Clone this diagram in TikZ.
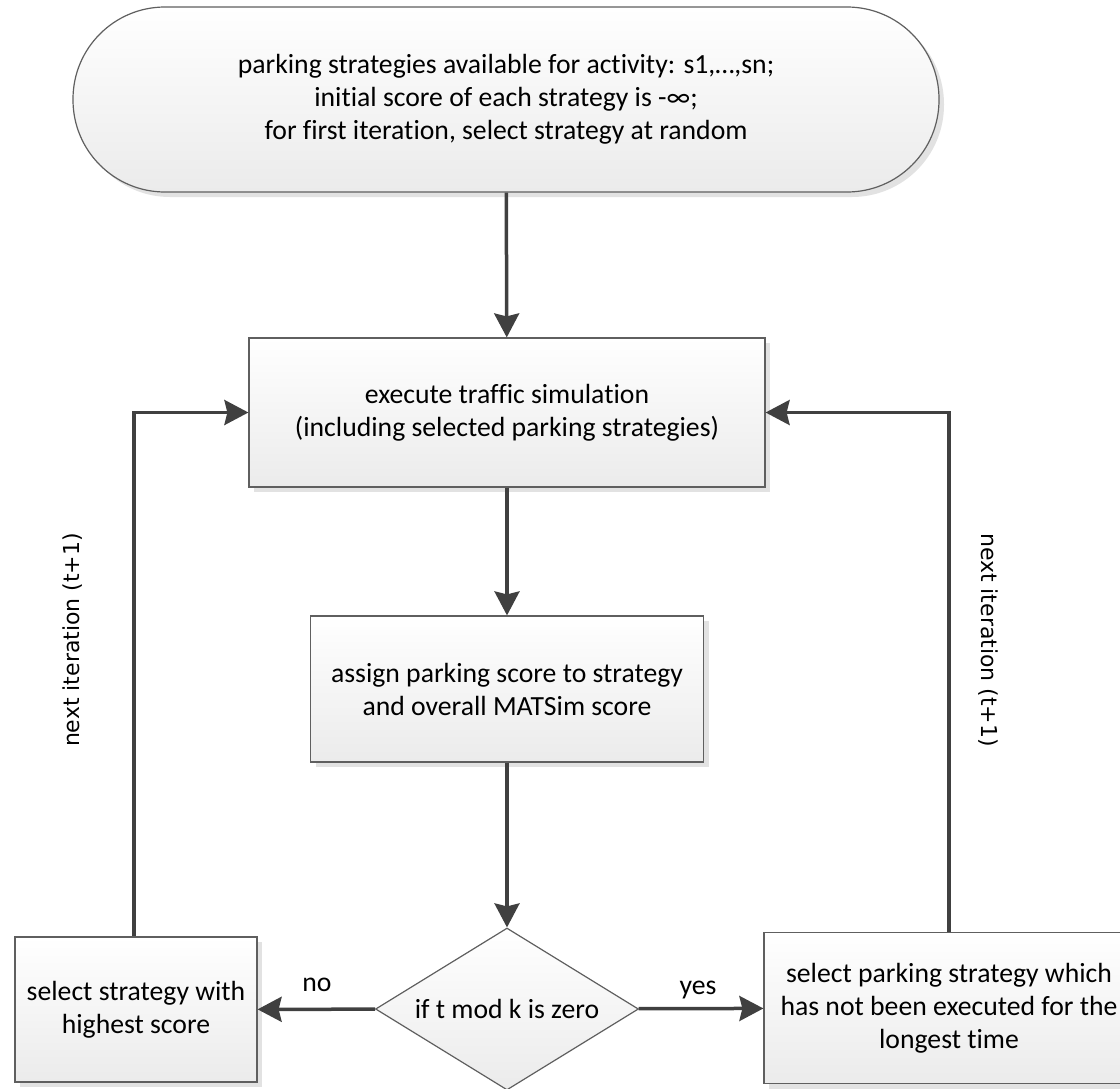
\documentclass[tikz,border=0pt]{standalone}
\usepackage{fontspec}
\setmainfont{Carlito}[Ligatures=NoCommon]
\newfontfamily\labelfont{DejaVu Sans}
\usetikzlibrary{arrows.meta,shapes.geometric,shadows}
\definecolor{linec}{HTML}{404040}
\definecolor{borderc}{HTML}{5F5F5F}
\definecolor{shadc}{HTML}{E2E2E2}
\definecolor{botc}{HTML}{EBEBEB}
\begin{document}
\begin{tikzpicture}[x=1pt,y=-1pt,
  every node/.style={font=\fontsize{27.7}{33}\selectfont},
  flowbox/.style={draw=borderc, line width=1.2pt, top color=white, bottom color=botc,
    general shadow={fill=shadc, shadow xshift=5pt, shadow yshift=-5pt},
    align=center, inner sep=0pt},
  decision/.style={diamond, draw=borderc, line width=1.2pt, top color=white, bottom color=botc,
    shape aspect=1.62, inner sep=0pt, minimum width=263pt, minimum height=162pt, align=center},
  conn/.style={draw=linec, line width=3.5pt, -{Stealth[length=24pt,width=25pt,inset=3pt]}},
  sidelabel/.style={font=\labelfont\fontsize{22}{26}\selectfont, inner sep=0pt},
  branchlabel/.style={inner sep=0pt}
]
\path[use as bounding box, clip] (0,0) rectangle (1120,1088);

\node[flowbox, rounded corners=92pt, minimum width=866pt, minimum height=185pt] (term) at (506,99.5)
  {parking strategies available for activity: s1,…,sn;\\
   initial score of each strategy is -∞;\\
   for first iteration, select strategy at random};

\node[flowbox, minimum width=516pt, minimum height=149pt] (sim) at (507,412.5)
  {execute traffic simulation\\(including selected parking strategies)};

\node[flowbox, minimum width=393pt, minimum height=146pt] (assign) at (507,689)
  {assign parking score to strategy\\and overall MATSim score};

\node[decision] (dec) at (507,1009) {if t mod k is zero};

\node[flowbox, minimum width=242pt, minimum height=145pt] (best) at (136,1009.5)
  {select strategy with\\highest score};

\node[flowbox, minimum width=370pt, minimum height=151pt] (oldest) at (949,1008)
  {select parking strategy which\\has not been executed for the\\longest time};

\draw[conn] (term) -- (sim);
\draw[conn] (sim) -- (assign);
\draw[conn] (assign) -- (dec);
\draw[conn] (dec) -- (best);
\draw[conn] (dec) -- (oldest);
\draw[conn] (best.north -| 134,0) |- (sim.west);
\draw[conn] (oldest.north) |- (sim.east);

\node[branchlabel] (nolab) at (317,985) {no};
\node[branchlabel] (yeslab) at (698,990) {yes};
\node[sidelabel, rotate=90] (leftlab) at (73,640) {next iteration (t+1)};
\node[sidelabel, rotate=-90] (rightlab) at (988,640) {next iteration (t+1)};
\end{tikzpicture}
\end{document}
